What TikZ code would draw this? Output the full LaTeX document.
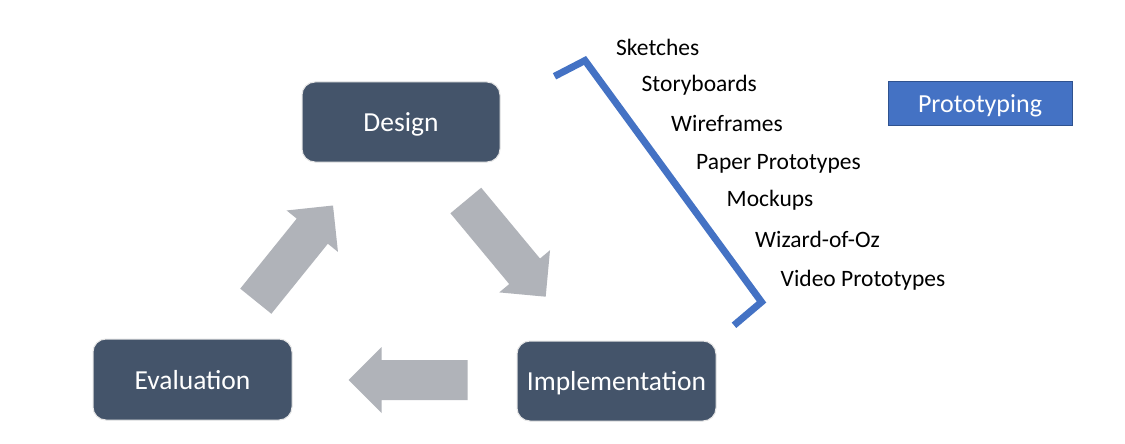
\documentclass[tikz,border=0pt]{standalone}
\usepackage{fontspec}
\setmainfont{Carlito}
\usetikzlibrary{calc}
\definecolor{boxslate}{HTML}{44546A}
\definecolor{protoblue}{HTML}{4472C4}
\definecolor{protoedge}{HTML}{2F528F}
\definecolor{arrowgray}{HTML}{B0B3B9}
\newcommand\blockarrow[2]{%
  \coordinate (#1-h) at ($(#2)!33pt!(#1)$);
  \fill[arrowgray] ($(#1)!20pt!90:(#2)$) -- ($(#1-h)!20pt!90:(#2)$) -- ($(#1-h)!33pt!90:(#2)$) -- (#2)
    -- ($(#1-h)!33pt!-90:(#2)$) -- ($(#1-h)!20pt!-90:(#2)$) -- ($(#1)!20pt!-90:(#2)$) -- cycle;}
\begin{document}
\begin{tikzpicture}[x=1pt,y=-1pt,
  stage/.style={rectangle, rounded corners=13pt, fill=boxslate, draw=black!10, line width=1pt,
    text=white, minimum width=198pt, minimum height=80pt, inner sep=0pt, text depth=0pt,
    font=\fontsize{27.5}{33}\selectfont},
  protobox/.style={rectangle, fill=protoblue, draw=protoedge, line width=1pt, text=white,
    minimum width=184pt, minimum height=43pt, inner sep=0pt, text depth=0pt,
    font=\fontsize{26}{31}\selectfont},
  item/.style={anchor=base west, inner sep=0pt, text=black, font=\fontsize{23.5}{28}\selectfont},
  bracket/.style={draw=protoblue, line width=7pt}]
\useasboundingbox[fill=white] (0,0) rectangle (1125,444);

\node[stage] (design) at (401,122) {Design};
\node[stage, minimum width=199pt, minimum height=81pt] (eval) at (192.5,379.5) {Evaluation};
\node[stage, minimum width=199pt] (impl) at (616.5,381) {Implementation};

\node[protobox] (proto) at (980,103.5) {Prototyping};

\node[item] (sk) at (616,56) {Sketches};
\node[item] (sb) at (641.5,92) {Storyboards};
\node[item] (wf) at (671,131.5) {Wireframes};
\node[item] (pp) at (696,169.3) {Paper Prototypes};
\node[item] (mu) at (726.5,206.7) {Mockups};
\node[item] (wz) at (755,247.3) {Wizard-of-Oz};
\node[item] (vp) at (780.5,286.7) {Video Prototypes};

\coordinate (b1) at (554.5,76.3);
\coordinate (b2) at (585,60.5);
\coordinate (b3) at (761.5,302);
\coordinate (b4) at (734,325.3);
\draw[bracket] (b1) -- (b2) -- (b3) -- (b4);

\coordinate (a1t) at (255.8,301.2); \coordinate (a1p) at (333,205.5);
\coordinate (a2t) at (465.8,200.5); \coordinate (a2p) at (545.7,296.7);
\coordinate (a3t) at (467.5,380);   \coordinate (a3p) at (348.7,380);
\blockarrow{a1t}{a1p}
\blockarrow{a2t}{a2p}
\blockarrow{a3t}{a3p}
\end{tikzpicture}
\end{document}
